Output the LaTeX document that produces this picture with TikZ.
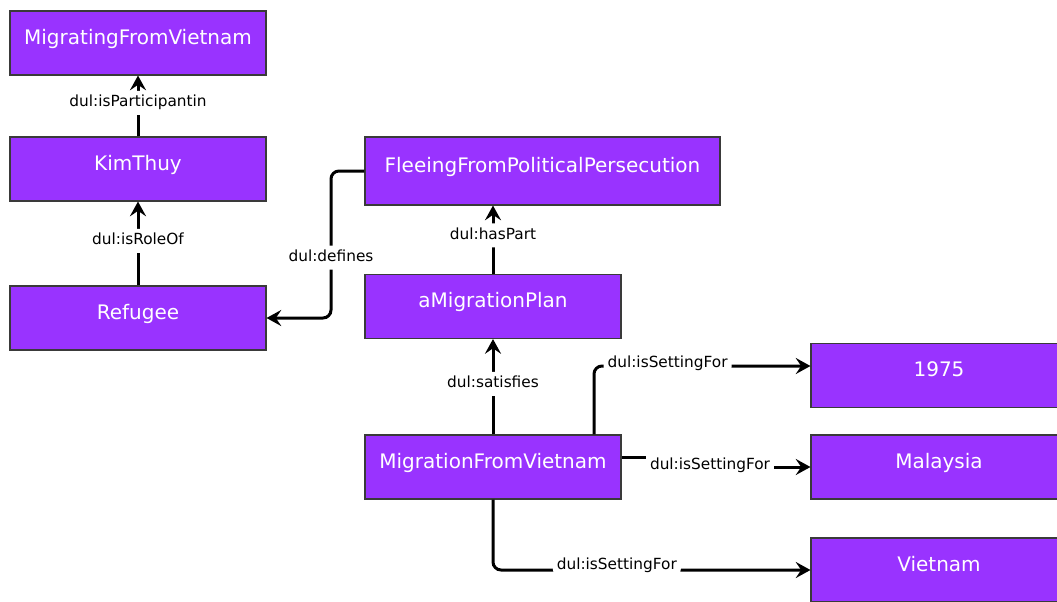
\documentclass[tikz,border=0pt]{standalone}
\usepackage{fontspec}
\setmainfont{DejaVu Sans}
\usepackage{xcolor}
\usepackage{tikz}
\usetikzlibrary{arrows.meta, calc}

\definecolor{conceptfill}{HTML}{9933FF}
\definecolor{conceptline}{HTML}{3A3A3A}

\begin{document}
\begin{tikzpicture}[x=0.75pt, y=-0.75pt,
    >={Stealth[length=11pt, width=12pt, inset=4pt]},
    concept/.style={draw=conceptline, line width=0.8pt, fill=conceptfill, text=white,
        minimum width=192pt, minimum height=48pt, inner sep=0pt,
        font=\fontsize{15}{18}\selectfont, text height=11pt, text depth=8.8pt},
    rel/.style={->, line width=2.25pt, rounded corners=6pt},
    rellabel/.style={fill=white, inner xsep=3pt, inner ysep=3.5pt,
        font=\fontsize{11.5}{13}\selectfont, text height=8.5pt, text depth=2.5pt}]

    \useasboundingbox (0,0) rectangle (1057,601);

    % =================================================================
    % 1. CAC KHOI KHAI NIEM
    % =================================================================
    \node[concept] (mig) at (138,43) {MigratingFromVietnam};
    \node[concept] (kim) at (138,169) {KimThuy};
    \node[concept] (refugee) at (138,318) {Refugee};
    \node[concept, minimum width=266.25pt, minimum height=51pt] (flee) at (542.5,171) {FleeingFromPoliticalPersecution};
    \node[concept] (plan) at (493,306.5) {aMigrationPlan};
    \node[concept] (mfv) at (493,467) {MigrationFromVietnam};
    \node[concept] (y1975) at (939,375.5) {1975};
    \node[concept] (malaysia) at (939,467) {Malaysia};
    \node[concept] (vietnam) at (939,570) {Vietnam};

    % =================================================================
    % 2. CAC QUAN HE BEN TRAI
    % =================================================================
    \draw[rel] (kim.north) -- node[rellabel, pos=0.55] {dul:isParticipantin} (mig.south);
    \draw[rel] (refugee.north) -- node[rellabel, pos=0.53] {dul:isRoleOf} (kim.south);

    % duong gap khuc tu Fleeing ve Refugee
    \coordinate (defx) at (331,0);
    \draw[rel] (flee.west) -- (defx |- flee.west)
        -- node[rellabel, pos=0.59] {dul:defines} (defx |- refugee.east) -- (refugee.east);

    % =================================================================
    % 3. CAC QUAN HE O GIUA
    % =================================================================
    \draw[rel] (plan.north) -- node[rellabel, pos=0.565] {dul:hasPart} (plan.north |- flee.south);
    \draw[rel] (mfv.north) -- node[rellabel, pos=0.53] {dul:satisfies} (plan.south);

    % =================================================================
    % 4. CAC QUAN HE dul:isSettingFor
    % =================================================================
    \coordinate (setx) at (594,0);
    \draw[rel] (setx |- mfv.north) |- node[rellabel, pos=0.67, yshift=2.25pt] {dul:isSettingFor}
        ($(y1975.west)+(0,-9.5)$);

    \coordinate (jogx) at (710,0);
    \draw[rel, rounded corners=0pt] ($(mfv.east)+(0,-10)$) -- ($(jogx |- mfv.east)+(0,-10)$)
        -- node[rellabel, pos=0.8] {dul:isSettingFor} (jogx |- malaysia.west) -- (malaysia.west);

    \draw[rel] (mfv.south) |- node[rellabel, pos=0.695, yshift=3.75pt] {dul:isSettingFor} (vietnam.west);

\end{tikzpicture}
\end{document}
